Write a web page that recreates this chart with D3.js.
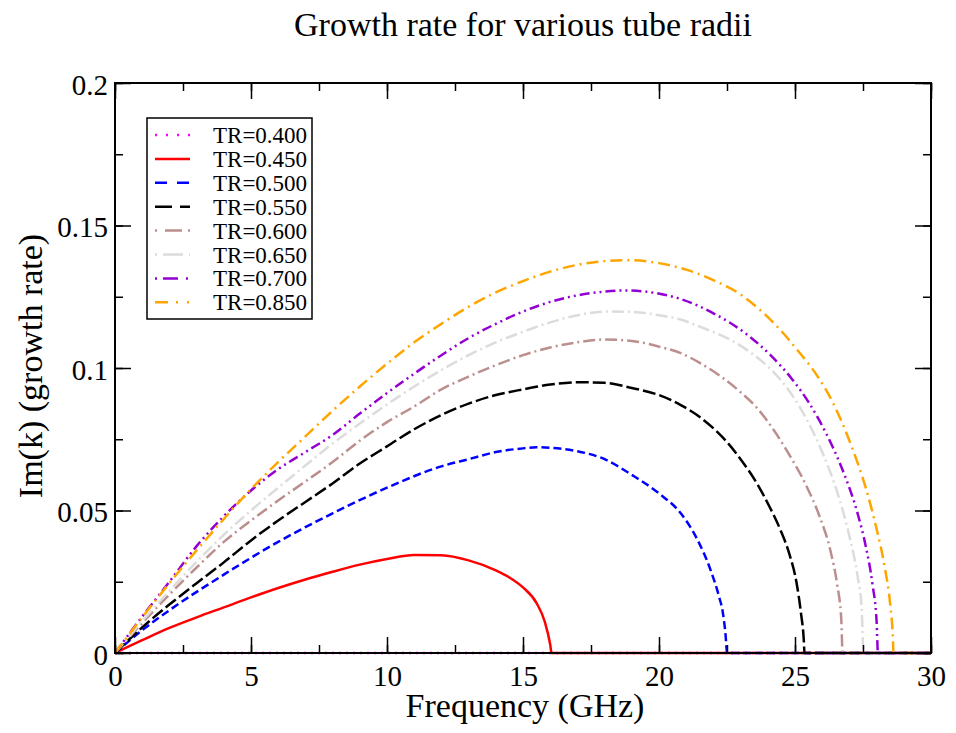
<!DOCTYPE html>
<html>
<head>
<meta charset="utf-8">
<script src="https://cdn.jsdelivr.net/npm/d3@7"></script>
<style>
  html, body { margin: 0; padding: 0; background: #fff; }
  svg { display: block; }
  text { font-family: "Liberation Serif", "Times New Roman", serif; fill: #000; }
</style>
</head>
<body>
<svg id="chart" width="956" height="733"></svg>
<script>
// ---------------- data ----------------
const title = "Growth rate for various tube radii";
const xLabel = "Frequency (GHz)";
const yLabel = "Im(k) (growth rate)";
const xTicks = [0, 5, 10, 15, 20, 25, 30];
const yTicks = [0, 0.05, 0.1, 0.15, 0.2];
const yTickLabels = ["0", "0.05", "0.1", "0.15", "0.2"];

const seriesNames = ["TR=0.400", "TR=0.450", "TR=0.500", "TR=0.550", "TR=0.600", "TR=0.650", "TR=0.700", "TR=0.850"];
const seriesColors = ["#ff00ff", "#ff0000", "#0000ff", "#000000", "#bc8f8f", "#dcdcdc", "#9400d3", "#ffa500"];

// [frequency GHz, growth rate]
const tr400 = [[0, 0], [30, 0]];
const tr450 = [[0,0],[1,0.0045],[2,0.0088],[3,0.0125],[4,0.016],[5,0.0195],[6,0.0228],[7,0.0258],[8,0.0285],[9,0.031],[10,0.033],[11,0.0344],[12,0.0343],[13,0.0325],[14,0.029],[14.5,0.0265],[15,0.023],[15.5,0.0175],[15.8,0.011],[16.0,0.003],[16.05,0],[30,0]];
const tr500 = [[0,0],[1,0.008],[2,0.015],[4,0.0275],[6,0.039],[8,0.049],[10,0.058],[12,0.0655],[13,0.068],[14,0.0705],[15,0.0718],[15.5,0.0722],[16,0.072],[17,0.0708],[18,0.068],[19,0.0625],[20,0.056],[20.8,0.049],[21.4,0.04],[21.9,0.029],[22.2,0.02],[22.35,0.014],[22.45,0.006],[22.5,0],[30,0]];
const tr550 = [[0,0],[1,0.009],[2,0.017],[3,0.0245],[4,0.0318],[5,0.0395],[6,0.0465],[7,0.053],[8,0.0595],[9,0.0665],[10,0.0725],[11,0.0785],[12,0.0835],[13,0.0875],[14,0.0905],[15,0.0925],[16,0.0942],[17,0.095],[18,0.0948],[19,0.093],[20,0.0905],[20.8,0.087],[21.5,0.0828],[22.5,0.074],[23,0.068],[23.6,0.0595],[24,0.0525],[24.45,0.0435],[24.8,0.0345],[25.05,0.025],[25.22,0.014],[25.32,0.005],[25.35,0],[30,0]];
const tr600 = [[0,0],[1,0.0105],[2,0.0205],[3,0.03],[4,0.039],[5,0.0465],[6,0.0535],[7,0.0602],[8,0.067],[9,0.0745],[10,0.081],[11,0.0865],[12,0.0925],[13,0.097],[14,0.101],[15,0.1045],[16,0.1072],[17,0.109],[18,0.11],[19,0.1095],[20,0.1075],[20.8,0.1052],[21.5,0.1018],[22.35,0.0965],[23,0.0915],[23.6,0.086],[24.2,0.0785],[24.7,0.071],[25.4,0.059],[25.9,0.048],[26.3,0.036],[26.55,0.024],[26.7,0.012],[26.75,0],[30,0]];
const tr650 = [[0,0],[1,0.0112],[2,0.0218],[3,0.032],[4,0.0415],[5,0.05],[6,0.058],[7,0.0658],[8,0.0735],[9,0.0805],[10,0.0872],[11,0.0935],[12,0.0993],[13,0.1045],[14,0.109],[15,0.1127],[16,0.116],[17,0.1185],[18,0.1198],[19,0.1197],[20,0.1185],[20.8,0.117],[21.5,0.1145],[22.6,0.11],[23.5,0.1045],[24,0.1005],[24.5,0.0955],[25,0.089],[25.4,0.0825],[26,0.0705],[26.6,0.055],[27,0.041],[27.3,0.027],[27.45,0.016],[27.52,0],[30,0]];
const tr700 = [[0,0],[1,0.0128],[2,0.025],[3,0.0375],[4,0.048],[5,0.057],[6,0.0645],[7,0.0705],[8,0.0765],[9,0.084],[10,0.0912],[11,0.098],[12,0.1045],[13,0.1105],[14,0.1155],[15,0.1198],[16,0.1232],[17,0.1255],[18,0.1268],[18.75,0.1272],[19.5,0.1268],[20.2,0.1257],[20.8,0.1242],[22,0.1192],[23.2,0.112],[24.1,0.1045],[24.9,0.096],[25.5,0.088],[25.9,0.0815],[26.4,0.072],[26.8,0.063],[27.3,0.049],[27.6,0.0375],[27.85,0.024],[28.0,0.011],[28.05,0],[30,0]];
const tr850 = [[0,0],[1,0.0125],[2,0.0245],[3,0.036],[4,0.047],[5,0.0575],[6,0.067],[7,0.076],[8,0.085],[9,0.0935],[10,0.1015],[11,0.109],[12,0.1155],[13,0.1215],[14,0.1265],[15,0.1305],[16,0.1338],[17,0.1362],[18,0.1375],[19,0.1378],[20,0.1368],[21,0.1345],[22,0.1308],[23,0.1258],[23.7,0.1205],[24.4,0.114],[25.07,0.1065],[25.8,0.0975],[26.4,0.0877],[27.1,0.072],[27.6,0.058],[28.0,0.0435],[28.3,0.03],[28.5,0.017],[28.6,0.005],[28.62,0],[30,0]];

const seriesData = [tr400, tr450, tr500, tr550, tr600, tr650, tr700, tr850];

// ---------------- styles ----------------
const plotDash = ["2,5", null, "8,4", "13,4", "12,4,2,4", "12,4,2,4", "10,4,2,4,2,4", "12,5,2,5"];
const legendDash = ["2,9", null, "12,10", "17,8", "2,8,17,6", "2,6,20,6", "2,6,15,8,2,9", "13,8,2,9,2,9"];

const svg = d3.select("#chart");
const L = 115, R = 931, T = 83, B = 653;

const x = d3.scaleLinear().domain([0, 30]).range([L, R]);
const y = d3.scaleLinear().domain([0, 0.2]).range([B, T]);

// curves
const line = d3.line().x(d => x(d[0])).y(d => y(d[1])).curve(d3.curveMonotoneX);
seriesData.forEach((s, i) => {
  const p = svg.append("path")
    .attr("d", line(s))
    .attr("fill", "none")
    .attr("stroke", seriesColors[i])
    .attr("stroke-width", 2.5)
    .attr("stroke-linejoin", "round");
  if (plotDash[i]) p.attr("stroke-dasharray", plotDash[i]);
});

// axes with inward ticks on all four sides
const xMinor = d3.range(0, 30.01, 2.5);
const yMinor = d3.range(0, 0.2001, 0.025);
const tickW = 1.5;

function addAxis(axis, transform) {
  const g = svg.append("g").attr("transform", transform).call(axis);
  g.select(".domain").remove();
  g.selectAll("line").attr("stroke", "#000").attr("stroke-width", tickW);
  return g;
}

// bottom major
const gxb = addAxis(d3.axisBottom(x).tickValues(xTicks).tickSize(-16).tickPadding(0).tickFormat(d3.format("d")), `translate(0,${B})`);
gxb.selectAll("text").attr("font-size", 29).attr("y", 33).attr("dy", 0);
addAxis(d3.axisBottom(x).tickValues(xMinor).tickSize(-8).tickFormat(""), `translate(0,${B})`);
// top
addAxis(d3.axisTop(x).tickValues(xTicks).tickSize(-16).tickFormat(""), `translate(0,${T})`);
addAxis(d3.axisTop(x).tickValues(xMinor).tickSize(-8).tickFormat(""), `translate(0,${T})`);
// left
const gyl = addAxis(d3.axisLeft(y).tickValues(yTicks).tickSize(-16).tickFormat((d, i) => yTickLabels[i]), `translate(${L},0)`);
gyl.selectAll("text").attr("font-size", 29).attr("x", -7).attr("dy", 0).attr("y", 11);
addAxis(d3.axisLeft(y).tickValues(yMinor).tickSize(-8).tickFormat(""), `translate(${L},0)`);
// right
addAxis(d3.axisRight(y).tickValues(yTicks).tickSize(-16).tickFormat(""), `translate(${R},0)`);
addAxis(d3.axisRight(y).tickValues(yMinor).tickSize(-8).tickFormat(""), `translate(${R},0)`);

// frame
svg.append("rect").attr("x", L).attr("y", T).attr("width", R - L).attr("height", B - T)
  .attr("fill", "none").attr("stroke", "#000").attr("stroke-width", 2);

// titles
svg.append("text").attr("x", (L + R) / 2).attr("y", 36).attr("text-anchor", "middle")
  .attr("font-size", 34).text(title);
svg.append("text").attr("x", (L + R) / 2 + 2).attr("y", 717).attr("text-anchor", "middle")
  .attr("font-size", 34).text(xLabel);
svg.append("text").attr("transform", "translate(42,366) rotate(-90)").attr("text-anchor", "middle")
  .attr("font-size", 34).text(yLabel);

// legend
const lg = svg.append("g");
lg.append("rect").attr("x", 147).attr("y", 118).attr("width", 165).attr("height", 201)
  .attr("fill", "#fff").attr("stroke", "#000").attr("stroke-width", 1.5);
seriesNames.forEach((name, i) => {
  const cy = 135 + i * 23.9;
  const l = lg.append("line").attr("x1", 155).attr("x2", 190).attr("y1", cy).attr("y2", cy)
    .attr("stroke", seriesColors[i]).attr("stroke-width", 2.5);
  if (legendDash[i]) l.attr("stroke-dasharray", legendDash[i]);
  lg.append("text").attr("x", 213).attr("y", cy + 8).attr("font-size", 23).text(name);
});
</script>
</body>
</html>
